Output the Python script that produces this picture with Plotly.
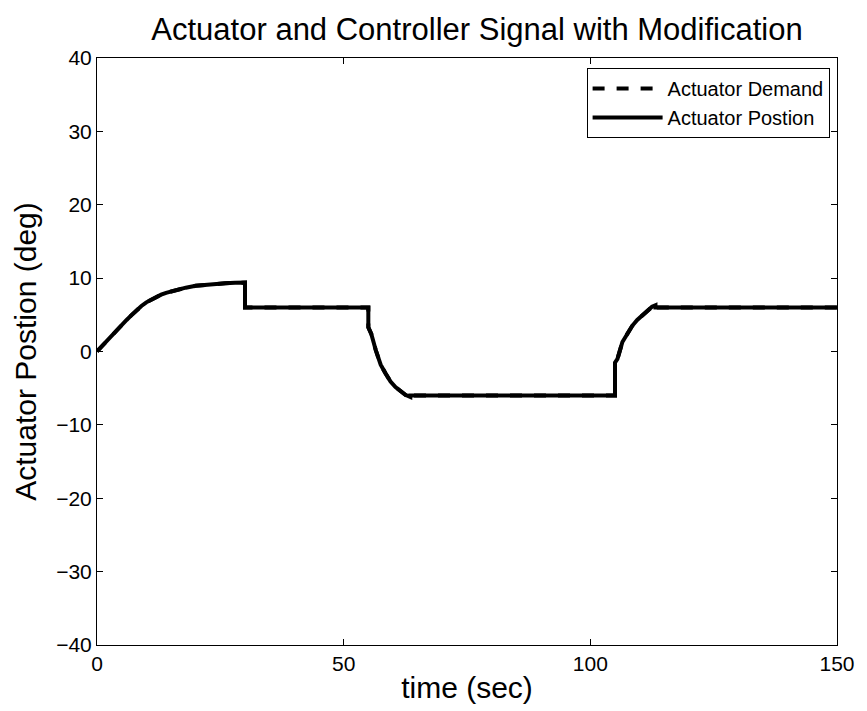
import plotly.graph_objects as go

# ---- data ----
time_s = [0, 1, 2, 3, 4, 5, 6, 7, 8, 9, 10, 11, 12, 13, 14, 15, 16, 18, 20, 22, 24, 26, 28, 30,
          30, 35, 40, 45, 50, 55,
          55, 55.6, 56.5, 57.5, 58.5, 59.5, 60.5, 61.5, 62.5, 63.5,
          63.5, 70, 80, 90, 100, 105,
          105, 105.5, 106.5, 107.5, 108.5, 109.5, 110.5, 111.5, 112.5, 113.2,
          113.2, 120, 130, 140, 150]

actuator_demand = [0, 0.75, 1.5, 2.2, 2.9, 3.6, 4.3, 4.95, 5.6, 6.2, 6.7, 7.1, 7.45, 7.75, 8.0, 8.2, 8.4, 8.7, 8.95, 9.1, 9.22, 9.3, 9.36, 9.4,
                   6.0, 6.0, 6.0, 6.0, 6.0, 6.0,
                   3.3, 2.4, 0.2, -1.8, -3.0, -4.1, -4.85, -5.45, -5.9, -6.45,
                   -6.0, -6.0, -6.0, -6.0, -6.0, -6.0,
                   -1.5, -1.0, 1.3, 2.5, 3.5, 4.3, 4.9, 5.6, 6.1, 6.5,
                   6.0, 6.0, 6.0, 6.0, 6.0]

actuator_position = [0, 0.75, 1.5, 2.2, 2.9, 3.6, 4.3, 4.95, 5.6, 6.2, 6.7, 7.1, 7.45, 7.75, 8.0, 8.2, 8.4, 8.7, 8.95, 9.1, 9.22, 9.3, 9.36, 9.4,
                     6.0, 6.0, 6.0, 6.0, 6.0, 6.0,
                     3.3, 2.4, 0.2, -1.8, -3.0, -4.1, -4.85, -5.45, -5.9, -6.2,
                     -6.0, -6.0, -6.0, -6.0, -6.0, -6.0,
                     -1.5, -1.0, 1.3, 2.5, 3.5, 4.3, 4.9, 5.6, 6.1, 6.3,
                     6.0, 6.0, 6.0, 6.0, 6.0]

x_ticks = [0, 50, 100, 150]
y_ticks = [-40, -30, -20, -10, 0, 10, 20, 30, 40]
y_tick_text = ["\u221240", "\u221230", "\u221220", "\u221210", "0", "10", "20", "30", "40"]

FONT = "Liberation Sans, Arial, Helvetica, sans-serif"

fig = go.Figure()
fig.add_trace(go.Scatter(x=time_s, y=actuator_position, mode="lines",
                         name="Actuator Postion",
                         line=dict(color="black", width=4)))
fig.add_trace(go.Scatter(x=time_s, y=actuator_demand, mode="lines",
                         name="Actuator Demand",
                         line=dict(color="black", width=4, dash="dash")))

fig.update_layout(
    width=867, height=711,
    margin=dict(l=97, r=24, t=58, b=66),
    paper_bgcolor="white", plot_bgcolor="white",
    font=dict(family=FONT, color="black"),
    title=dict(text="Actuator and Controller Signal with Modification",
               x=477 / 867, xref="container", xanchor="center",
               y=1 - 29 / 711, yref="container", yanchor="middle",
               font=dict(size=31, family=FONT, color="black")),
    showlegend=True,
    legend=dict(x=0.99, y=0.983, xanchor="right", yanchor="top",
                bordercolor="black", borderwidth=1, bgcolor="white",
                font=dict(size=20, family=FONT, color="black"),
                traceorder="reversed", itemwidth=70, tracegroupgap=0),
    xaxis=dict(range=[0, 150], tickvals=x_ticks, ticktext=[str(v) for v in x_ticks],
               ticks="inside", ticklen=6, tickcolor="black", tickwidth=1,
               showline=True, linecolor="black", linewidth=1, mirror="ticks",
               showgrid=False, zeroline=False,
               tickfont=dict(size=21, family=FONT, color="black"),
               title=dict(text="time (sec)", font=dict(size=30, family=FONT, color="black"),
                          standoff=2)),
    yaxis=dict(range=[-40, 40], tickvals=y_ticks, ticktext=y_tick_text,
               ticks="inside", ticklen=6, tickcolor="black", tickwidth=1,
               showline=True, linecolor="black", linewidth=1, mirror="ticks",
               showgrid=False, zeroline=False,
               tickfont=dict(size=21, family=FONT, color="black"),
               title=dict(text="Actuator Postion (deg)", font=dict(size=30, family=FONT, color="black"),
                          standoff=10)),
)

fig.write_html("out.html")
